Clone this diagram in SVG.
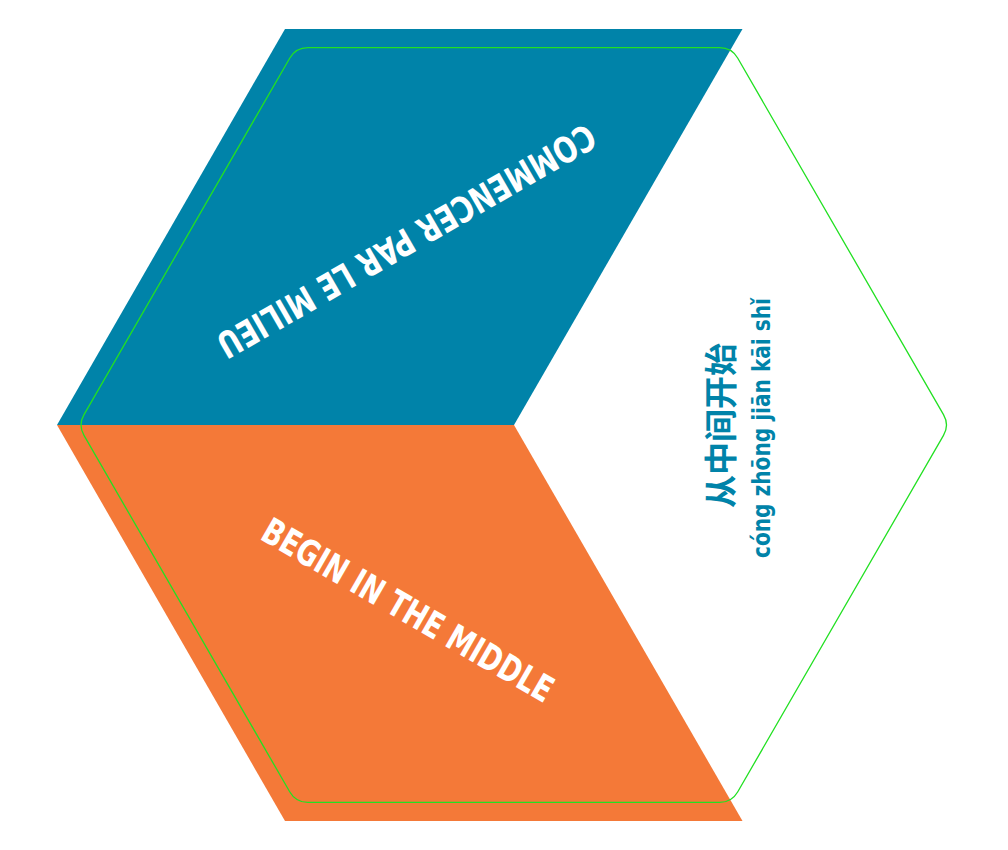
<svg xmlns="http://www.w3.org/2000/svg" width="1008" height="850" viewBox="0 0 1008 850">
  <style>
    .title { font-family: "Liberation Sans Narrow", "DejaVu Sans Condensed", "Liberation Sans", sans-serif; font-weight: bold; fill: #ffffff; }
    .cjk { font-family: "Noto Sans CJK SC", "Noto Sans CJK TC", sans-serif; font-weight: bold; fill: #0083A9; }
    .pinyin { font-family: "Liberation Sans Narrow", "DejaVu Sans Condensed", "Liberation Sans", sans-serif; font-weight: bold; fill: #0083A9; }
  </style>
  <rect width="1008" height="850" fill="#ffffff"/>
  <g id="face-top">
    <polygon points="285,29 742.5,29 514,425 57,425" fill="#0083A9"/>
    <text class="title" font-size="36" text-anchor="middle" textLength="430" lengthAdjust="spacingAndGlyphs" transform="translate(400,230) rotate(150)" x="0" y="0">COMMENCER PAR LE MILIEU</text>
  </g>
  <g id="face-bottom">
    <polygon points="57,425 514,425 742.5,821 285,821" fill="#F47938"/>
    <text class="title" font-size="36" text-anchor="middle" textLength="330" lengthAdjust="spacingAndGlyphs" transform="translate(401.6,621) rotate(30)" x="0" y="0">BEGIN IN THE MIDDLE</text>
  </g>
  <g id="face-right">
    <text class="cjk" font-size="33" text-anchor="middle" textLength="165" lengthAdjust="spacingAndGlyphs" transform="translate(733,425.5) rotate(-90)" x="0" y="0">从中间开始</text>
    <text class="pinyin" font-size="24" text-anchor="middle" textLength="260" lengthAdjust="spacingAndGlyphs" transform="translate(770,428) rotate(-90)" x="0" y="0">cóng zhōng jiān kāi shǐ</text>
  </g>
  <g id="outline">
    <path d="M84,414.6 L289.85,58 Q295.85,47.6 307.85,47.6 L719.65,47.6 Q731.65,47.6 737.65,58 L943.5,414.6 Q949.5,425 943.5,435.4 L737.65,792 Q731.65,802.4 719.65,802.4 L307.85,802.4 Q295.85,802.4 289.85,792 L84,435.4 Q78,425 84,414.6 Z" fill="none" stroke="#22e022" stroke-width="1.3"/>
  </g>
</svg>
